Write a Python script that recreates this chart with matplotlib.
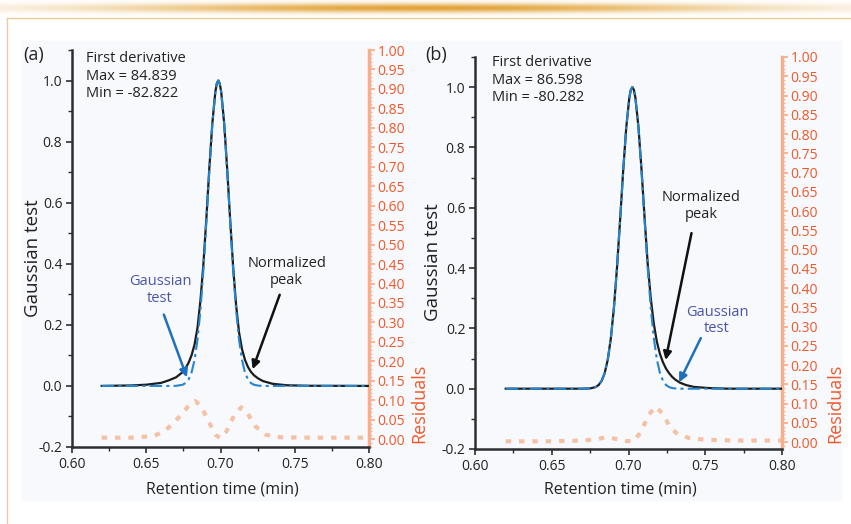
import numpy as np
import matplotlib.pyplot as plt
from matplotlib.patches import Rectangle
from matplotlib.lines import Line2D
from matplotlib.ticker import MultipleLocator, FormatStrFormatter

plt.rcParams['font.family'] = ['Open Sans', 'DejaVu Sans']
plt.rcParams['axes.unicode_minus'] = False

# ---- panel (a) data ----
time_a = [0.620, 0.640, 0.650, 0.660, 0.665, 0.670, 0.6745, 0.6765, 0.6785, 0.6805,
          0.6825, 0.6845, 0.6865, 0.6885, 0.6905, 0.6925, 0.6945, 0.6965, 0.6975,
          0.6985, 0.6995, 0.7005, 0.7025, 0.7045, 0.7065, 0.7085, 0.7105, 0.7125,
          0.7145, 0.7165, 0.7185, 0.7205, 0.7225, 0.7255, 0.7285, 0.735, 0.745,
          0.760, 0.800]
peak_a = [0.0, 0.0015, 0.004, 0.010, 0.018, 0.028, 0.045, 0.058, 0.076, 0.10,
          0.135, 0.19, 0.28, 0.40, 0.55, 0.715, 0.86, 0.962, 0.99,
          1.0, 0.99, 0.962, 0.858, 0.71, 0.545, 0.39, 0.265, 0.175,
          0.12, 0.085, 0.062, 0.046, 0.035, 0.024, 0.016, 0.007, 0.002,
          0.0005, 0.0]
gauss_a = [0.0, 0.0, 0.0, 0.0, 0.0, 0.0002, 0.0039, 0.0094, 0.0211, 0.0439,
           0.0847, 0.151, 0.249, 0.381, 0.539, 0.707, 0.857, 0.962, 0.990,
           1.0, 0.990, 0.962, 0.857, 0.707, 0.539, 0.381, 0.249, 0.151,
           0.0847, 0.0439, 0.0211, 0.0094, 0.0039, 0.0009, 0.0, 0.0, 0.0,
           0.0, 0.0]
res_time_a = [0.620, 0.640, 0.655, 0.662, 0.668, 0.674, 0.679, 0.683, 0.687, 0.692,
              0.697, 0.700, 0.704, 0.709, 0.714, 0.718, 0.723, 0.730, 0.740, 0.760, 0.800]
res_a = [0.004, 0.004, 0.008, 0.02, 0.04, 0.065, 0.088, 0.098, 0.085, 0.045,
         0.01, 0.003, 0.02, 0.06, 0.082, 0.068, 0.035, 0.012, 0.005, 0.004, 0.004]

# ---- panel (b) data ----
time_b = [0.620, 0.640, 0.660, 0.670, 0.675, 0.6785, 0.6805, 0.6825, 0.6845, 0.6865,
          0.6885, 0.6905, 0.6925, 0.6945, 0.6965, 0.6985, 0.7005, 0.7015, 0.7025,
          0.7035, 0.7045, 0.7065, 0.7085, 0.7105, 0.7125, 0.7145, 0.7165, 0.7185,
          0.7205, 0.7225, 0.7245, 0.7265, 0.7285, 0.7305, 0.7335, 0.7375, 0.7425,
          0.7525, 0.765, 0.800]
peak_b = [0.0, 0.0, 0.0, 0.0, 0.001, 0.0052, 0.0120, 0.0259, 0.0519, 0.0966,
          0.167, 0.268, 0.401, 0.557, 0.720, 0.864, 0.964, 0.991, 1.0,
          0.991, 0.965, 0.867, 0.725, 0.565, 0.415, 0.30, 0.215, 0.155,
          0.115, 0.087, 0.066, 0.051, 0.039, 0.030, 0.020, 0.012, 0.006,
          0.002, 0.0, 0.0]
gauss_b = [0.0, 0.0, 0.0, 0.0, 0.001, 0.0052, 0.0120, 0.0259, 0.0519, 0.0966,
           0.167, 0.268, 0.401, 0.557, 0.720, 0.864, 0.964, 0.991, 1.0,
           0.991, 0.964, 0.864, 0.720, 0.557, 0.401, 0.268, 0.167, 0.0966,
           0.0519, 0.0259, 0.0120, 0.0052, 0.0021, 0.0008, 0.0, 0.0, 0.0,
           0.0, 0.0, 0.0]
res_time_b = [0.620, 0.650, 0.670, 0.680, 0.686, 0.692, 0.698, 0.703, 0.708, 0.713,
              0.7175, 0.722, 0.727, 0.732, 0.740, 0.750, 0.770, 0.800]
res_b = [0.002, 0.002, 0.004, 0.008, 0.013, 0.008, 0.003, 0.002, 0.025, 0.07,
         0.092, 0.075, 0.04, 0.02, 0.01, 0.006, 0.004, 0.004]

stats_a = 'First derivative\nMax = 84.839\nMin = -82.822'
stats_b = 'First derivative\nMax = 86.598\nMin = -80.282'

ORANGE = '#f0582a'
RES = '#f4935f'
BLUE_LINE = '#2585d0'
BLUE_TXT = '#4a56a8'
BLUE_ARROW = '#1f6fc0'
DARK = '#2b2f33'

W, H = 851, 524
fig = plt.figure(figsize=(W / 100, H / 100), dpi=100)


def fx(px):
    return px / W


def fy(py):
    return 1 - py / H


# page decoration
fig.patches.append(Rectangle((fx(22), fy(500)), fx(841) - fx(22), fy(41) - fy(500),
                             transform=fig.transFigure, color='#f8f9fc', zorder=-5))
fig.add_artist(Line2D([fx(7), fx(7)], [0, fy(18)], color='#eccb98', lw=1))
fig.add_artist(Line2D([fx(7), 1], [fy(18), fy(18)], color='#eccb98', lw=1))
band = fig.add_axes([0, fy(16), 1, 16 / H])
band.axis('off')
gx = np.linspace(-1, 1, 400)
gy = np.linspace(-1, 1, 16)
img = np.zeros((16, 400, 4))
img[..., 0], img[..., 1], img[..., 2] = 0.88, 0.62, 0.18
img[..., 3] = 0.95 * np.outer(np.exp(-(gy / 0.6) ** 2), np.exp(-(gx / 0.75) ** 2))
band.imshow(img, aspect='auto', extent=(0, 1, 0, 1))


def make_panel(rect, rlim, t, peak, gauss, rt, res):
    ax = fig.add_axes(rect)
    ax.patch.set_visible(False)
    ax.set_xlim(0.6, 0.8)
    ax.set_ylim(-0.2, 1.1)
    for s in ['top', 'right']:
        ax.spines[s].set_visible(False)
    for s in ['left', 'bottom']:
        ax.spines[s].set_color(DARK)
        ax.spines[s].set_linewidth(1.8)
    ax.xaxis.set_major_locator(MultipleLocator(0.05))
    ax.xaxis.set_minor_locator(MultipleLocator(0.025))
    ax.xaxis.set_major_formatter(FormatStrFormatter('%.2f'))
    ax.yaxis.set_major_locator(MultipleLocator(0.2))
    ax.yaxis.set_minor_locator(MultipleLocator(0.1))
    ax.yaxis.set_major_formatter(FormatStrFormatter('%.1f'))
    ax.tick_params(which='major', length=4, width=1.2, color=DARK, labelsize=10,
                   labelcolor='#222222', pad=3)
    ax.tick_params(which='minor', length=3, width=1.0, color=DARK)

    ax2 = ax.twinx()
    ax2.patch.set_visible(False)
    ax2.set_ylim(*rlim)
    for s in ['top', 'left', 'bottom']:
        ax2.spines[s].set_visible(False)
    ax2.spines['right'].set_color('#f7ae8c')
    ax2.spines['right'].set_linewidth(2.5)
    ax2.yaxis.set_major_locator(MultipleLocator(0.05))
    ax2.yaxis.set_minor_locator(MultipleLocator(0.01))
    ax2.yaxis.set_major_formatter(FormatStrFormatter('%.2f'))
    ax2.tick_params(which='major', length=4, width=1.2, color='#f7a985', labelsize=10,
                    labelcolor=ORANGE, pad=2)
    ax2.tick_params(which='minor', length=2.5, width=0.8, color='#f9b898')

    ax2.plot(rt, res, color=RES, lw=3, alpha=0.55, dashes=(1.3, 1.9))
    ax.plot(t, peak, color='#1c1c1c', lw=1.6, zorder=3)
    ax.plot(t, gauss, color=BLUE_LINE, lw=1.5, dashes=(6, 2, 1.5, 2), zorder=4)
    ax2.set_zorder(1)
    ax.set_zorder(2)
    return ax, ax2


ax_a, ax2_a = make_panel([fx(72), fy(447), fx(369) - fx(72), fy(50) - fy(447)],
                         (-0.02, 1.0), time_a, peak_a, gauss_a, res_time_a, res_a)
ax_b, ax2_b = make_panel([fx(475), fy(449), fx(782) - fx(475), fy(57) - fy(449)],
                         (-0.018, 1.0), time_b, peak_b, gauss_b, res_time_b, res_b)

# panel (a) annotations
ax_a.text(0.7445, 0.373, 'Normalized\npeak', ha='center', va='center', fontsize=10.5,
          color='#222222', linespacing=1.15)
ax_a.annotate('', xy=(0.7210, 0.046), xytext=(0.7405, 0.307),
              arrowprops=dict(arrowstyle='-|>', color='#111111', lw=1.8, mutation_scale=12))
ax_a.text(0.6592, 0.314, 'Gaussian\ntest', ha='center', va='center', fontsize=10.5,
          color=BLUE_TXT, linespacing=1.15)
ax_a.annotate('', xy=(0.678, 0.0196), xytext=(0.6612, 0.242),
              arrowprops=dict(arrowstyle='-|>', color=BLUE_ARROW, lw=1.8, mutation_scale=12))

# panel (b) annotations
ax_b.text(0.7472, 0.605, 'Normalized\npeak', ha='center', va='center', fontsize=10.5,
          color='#222222', linespacing=1.15)
ax_b.annotate('', xy=(0.7238, 0.086), xytext=(0.7414, 0.525),
              arrowprops=dict(arrowstyle='-|>', color='#111111', lw=1.8, mutation_scale=12))
ax_b.text(0.7577, 0.226, 'Gaussian\ntest', ha='center', va='center', fontsize=10.5,
          color=BLUE_TXT, linespacing=1.15)
ax_b.annotate('', xy=(0.7322, 0.013), xytext=(0.7479, 0.176),
              arrowprops=dict(arrowstyle='-|>', color=BLUE_ARROW, lw=1.8, mutation_scale=12))

# labels
fig.text(fx(34), fy(55), '(a)', fontsize=13, ha='center', va='center', color='#222222')
fig.text(fx(436), fy(55), '(b)', fontsize=13, ha='center', va='center', color='#222222')
fig.text(fx(86), fy(76), stats_a, fontsize=10.5, ha='left', va='center',
         color='#222222', linespacing=1.25)
fig.text(fx(492), fy(80), stats_b, fontsize=10.5, ha='left', va='center',
         color='#222222', linespacing=1.25)
fig.text(fx(33), fy(258), 'Gaussian test', rotation=90, fontsize=13.5, ha='center',
         va='center', color='#222222')
fig.text(fx(433), fy(262), 'Gaussian test', rotation=90, fontsize=13.5, ha='center',
         va='center', color='#222222')
fig.text(fx(419), fy(403), 'Residuals', rotation=90, fontsize=13, ha='center',
         va='center', color=ORANGE)
fig.text(fx(835), fy(403), 'Residuals', rotation=90, fontsize=13, ha='center',
         va='center', color=ORANGE)
fig.text(fx(222), fy(489), 'Retention time (min)', fontsize=11.5, ha='center',
         va='center', color='#222222')
fig.text(fx(620), fy(490), 'Retention time (min)', fontsize=11.5, ha='center',
         va='center', color='#222222')

fig.savefig('out.png', dpi=100)
